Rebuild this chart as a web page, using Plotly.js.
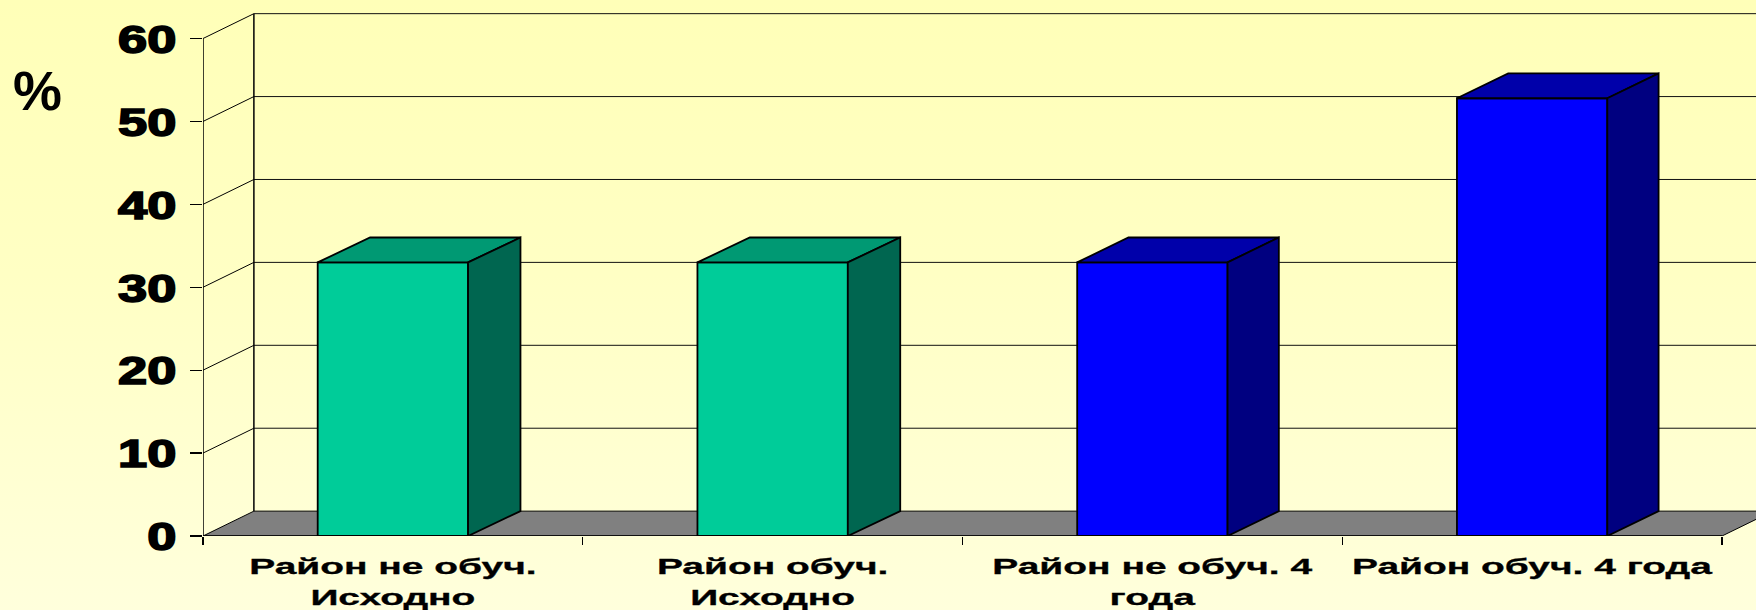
<!DOCTYPE html>
<html>
<head>
<meta charset="utf-8">
<script src="https://cdn.plot.ly/plotly-3.0.1.min.js"></script>
<style>
html,body{margin:0;padding:0;width:1756px;height:610px;overflow:hidden;
background:linear-gradient(180deg,#ffffb8 0%,#ffffc4 45%,#ffffdc 100%);}
#chart{width:1756px;height:610px;}
</style>
</head>
<body>
<div id="chart"></div>
<script>
// ---- data ----
const categories = ['Район не обуч.<br>Исходно','Район обуч.<br>Исходно','Район не обуч. 4<br>года','Район обуч. 4 года'];
const values = [33, 33, 33, 52.8];
const frontColors = ['#00CC99','#00CC99','#0000FF','#0000FF'];
const topColors   = ['#009973','#009973','#0000AA','#0000AA'];
const sideColors  = ['#006650','#006650','#000080','#000080'];
const yTicks = [0,10,20,30,40,50,60];
// ---- 3-D look, in axis units ----
const depthX = [0.138,0.138,0.135,0.135];
const wallX = 0.134, depthY = 3.0, barWidth = 0.396;
const xStart = -0.5, xEnd = 3.5, xMax = 3.5895, yMax = 63.2;
const positions = categories.map((c,i)=>i);
const ink = '#000';

const traces = [{
  type:'bar', x:positions, y:values, width:barWidth,
  marker:{color:frontColors, line:{color:ink,width:1.8}}, hoverinfo:'y'
}];
values.forEach((v,i)=>{
  const l = positions[i]-barWidth/2, r = positions[i]+barWidth/2, d = depthX[i];
  traces.push({type:'scatter',mode:'lines',fill:'toself',fillcolor:topColors[i],hoverinfo:'skip',
    x:[l,l+d,r+d,r,l], y:[v,v+depthY,v+depthY,v,v], line:{color:ink,width:1.8}});
  traces.push({type:'scatter',mode:'lines',fill:'toself',fillcolor:sideColors[i],hoverinfo:'skip',
    x:[r,r+d,r+d,r,r], y:[0,depthY,v+depthY,v,0], line:{color:ink,width:1.8}});
});
// front axis lines and back-wall left edge (unclipped)
traces.push({type:'scatter',mode:'lines',cliponaxis:false,hoverinfo:'skip',
  x:[xStart,xStart,null,xStart,xEnd,null,xStart+wallX,xStart+wallX],
  y:[Math.max(...yTicks),0,null,0,0,null,depthY,Math.max(...yTicks)+depthY],
  line:{color:ink,width:1.5}});

const shapes = [{
  // grey floor, with its slanted right end running off the picture
  type:'path',layer:'below',xref:'x',yref:'y',fillcolor:'#808080',
  path:`M ${xStart} 0 L ${xStart+wallX} ${depthY} L ${xEnd+wallX} ${depthY} L ${xEnd} 0 Z`,
  line:{color:ink,width:1}
}];
yTicks.filter(t=>t>0).forEach(t=>{
  shapes.push({type:'line',layer:'below',xref:'x',yref:'y',x0:xStart+wallX,x1:xMax,y0:t+depthY,y1:t+depthY,line:{color:'#111',width:1}});
  shapes.push({type:'line',layer:'below',xref:'x',yref:'y',x0:xStart,x1:xStart+wallX,y0:t,y1:t+depthY,line:{color:ink,width:1}});
});

const layout = {
  width:1756,height:610,autosize:false,showlegend:false,
  margin:{l:203,r:0,t:12,b:74,pad:0},
  paper_bgcolor:'rgba(0,0,0,0)',plot_bgcolor:'rgba(0,0,0,0)',
  xaxis:{type:'linear',range:[xStart,xMax],fixedrange:true,showgrid:false,zeroline:false,showline:false,
    tickmode:'array',tickvals:positions,ticktext:categories,ticks:'',tickangle:0,
    ticklabelstandoff:15,
    tickfont:{family:'"Liberation Sans",Arial,sans-serif',size:22.5,color:'#000',weight:'bold'},
    minor:{tickmode:'array',tickvals:[-0.5,0.5,1.5,2.5,3.5],ticks:'outside',ticklen:8,tickwidth:1.3,tickcolor:ink,showgrid:false}},
  yaxis:{range:[0,yMax],fixedrange:true,showgrid:false,zeroline:false,showline:false,
    tickmode:'array',tickvals:yTicks,ticktext:yTicks.map(String),ticks:'outside',ticklen:12,tickwidth:1.3,tickcolor:ink,
    ticklabelstandoff:6,
    tickfont:{family:'"Liberation Sans",Arial,sans-serif',size:38,color:'#000',weight:'bold'}},
  annotations:[{text:'%',xref:'paper',yref:'paper',x:-0.1065,y:0.849,xanchor:'center',yanchor:'middle',showarrow:false,
    font:{family:'"Liberation Sans",Arial,sans-serif',size:55,color:'#000',weight:'bold'}}],
  shapes:shapes
};

Plotly.newPlot('chart',traces,layout,{displayModeBar:false,staticPlot:true}).then(()=>{
  // The reference text is horizontally stretched: widen the real text glyphs.
  const widen=(sel,sx,anchor,dy,strokeW,lineDy)=>{
    document.querySelectorAll(sel).forEach(t=>{
      if(lineDy){t.querySelectorAll('tspan.line').forEach((s,i)=>{if(i>0)s.setAttribute('dy',lineDy);});}
      const b=t.getBBox();
      const ox=anchor==='right'?b.x+b.width:b.x+b.width/2;
      const old=t.getAttribute('transform')||'';
      t.setAttribute('transform',`${old} translate(${ox},${dy}) scale(${sx},1) translate(${-ox},0)`);
      t.style.stroke='#000';t.style.strokeWidth=strokeW+'px';
    });
  };
  widen('.xtick text',1.73,'center',0,0.3,'1.35em');
  widen('.ytick text',1.38,'right',1,1.6);
});
</script>
</body>
</html>
